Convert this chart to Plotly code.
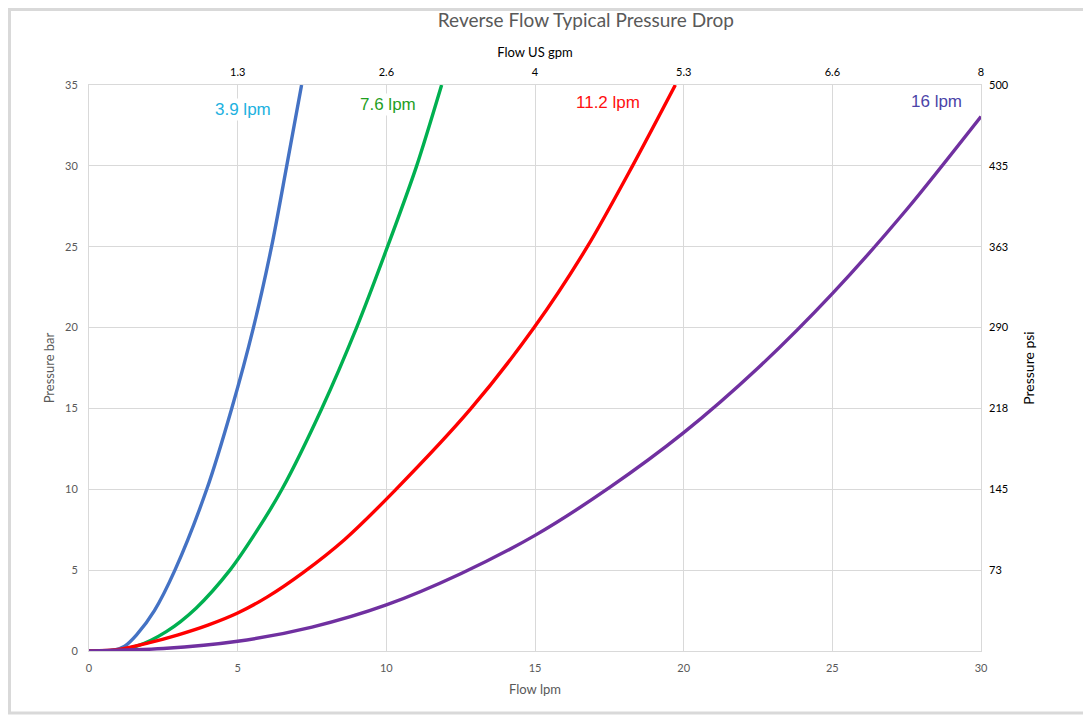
import plotly.graph_objects as go

# Flow (lpm) vs pressure drop (bar)
blue_x = [0, 0.8, 1.2, 1.6, 2.2, 2.89, 3.96, 4.80, 5.53, 6.14, 6.65, 7.15]
blue_y = [0, 0.03, 0.3, 1.0, 2.5, 5, 10, 15, 20, 25, 30, 35]

green_x = [0, 0.8, 1.6, 2.6, 3.6, 4.74, 5.6, 6.49, 7.83, 9.0, 10.04, 11.02, 11.86]
green_y = [0, 0.03, 0.3, 1.2, 2.65, 5, 7.3, 10, 15, 20, 25, 30, 35]

red_x = [0, 1, 2, 3, 4, 5, 6, 7.2, 8.6, 10.3, 12.85, 14.97, 16.76, 18.28, 19.72]
red_y = [0, 0.1, 0.5, 1.0, 1.6, 2.35, 3.35, 4.85, 6.9, 9.95, 15, 20, 25, 30, 35]

purple_x = [0, 2.5, 5, 7.5, 10, 12.5, 15, 17.5, 20, 22.5, 25, 27.5, 30]
purple_y = [0, 0.15, 0.6, 1.48, 2.85, 4.78, 7.15, 10.1, 13.5, 17.5, 22.1, 27.3, 33.05]

series_names = ['3.9 lpm', '7.6 lpm', '11.2 lpm', '16 lpm']
line_colors = ['#4472C4', '#00B050', '#FF0000', '#7030A0']
label_colors = ['#21B1E0', '#1FA01F', '#FF1010', '#4B44A8']
label_pos = [(5.18, 33.5), (10.06, 33.77), (17.46, 33.9), (28.52, 33.95)]

bar_ticks = [0, 5, 10, 15, 20, 25, 30, 35]
psi_ticks = [5, 10, 15, 20, 25, 30, 35]
psi_labels = ['73', '145', '218', '290', '363', '435', '500']
lpm_ticks = [0, 5, 10, 15, 20, 25, 30]
gpm_ticks = [5, 10, 15, 20, 25, 30]
gpm_labels = ['1.3', '2.6', '4', '5.3', '6.6', '8']

FONT = 'Lato'
GRID = '#D9D9D9'

fig = go.Figure()

for xs, ys, name, col in zip([blue_x, green_x, red_x, purple_x],
                             [blue_y, green_y, red_y, purple_y],
                             series_names, line_colors):
    fig.add_trace(go.Scatter(
        x=xs, y=ys, mode='lines', name=name,
        line=dict(color=col, width=3.4, shape='spline', smoothing=0.8),
    ))

# invisible trace so the secondary axes get drawn
fig.add_trace(go.Scatter(x=[0, 30], y=[0, 35], xaxis='x2', yaxis='y2',
                         mode='markers', marker=dict(opacity=0),
                         showlegend=False, hoverinfo='skip'))

for name, col, (lx, ly) in zip(series_names, label_colors, label_pos):
    fig.add_annotation(x=lx, y=ly, text=name, showarrow=False,
                       font=dict(family='Liberation Sans', size=17, color=col),
                       bgcolor='white')

# the page adds an 8px body margin, so the figure is a bit smaller than the window
fig.update_layout(
    width=1083, height=708,
    margin=dict(l=81, r=110, t=77, b=65),
    paper_bgcolor='white', plot_bgcolor='white',
    showlegend=False,
    title=dict(text='Reverse Flow Typical Pressure Drop',
               x=0.557, xref='paper', xanchor='center',
               y=0.982, yanchor='middle',
               font=dict(family=FONT, size=19, color='#595959')),
    xaxis=dict(range=[0, 30], tickvals=lpm_ticks,
               showgrid=True, gridcolor=GRID, gridwidth=1,
               showline=True, linecolor=GRID, linewidth=1, mirror=True,
               zeroline=False, ticks='', ticklabelstandoff=7,
               tickfont=dict(family=FONT, size=11, color='#595959'),
               title=dict(text='Flow lpm', standoff=11,
                          font=dict(family=FONT, size=13, color='#595959'))),
    yaxis=dict(range=[0, 35], tickvals=bar_ticks,
               showgrid=True, gridcolor=GRID, gridwidth=1,
               showline=True, linecolor=GRID, linewidth=1, mirror=True,
               zeroline=False, ticks='', ticklabelstandoff=8,
               tickfont=dict(family=FONT, size=11, color='#595959'),
               title=dict(text='Pressure bar', standoff=7,
                          font=dict(family=FONT, size=13, color='#595959'))),
    xaxis2=dict(overlaying='x', side='top', range=[0, 30],
                tickvals=gpm_ticks, ticktext=gpm_labels,
                showgrid=False, zeroline=False, ticks='', ticklabelstandoff=6,
                tickfont=dict(family=FONT, size=11, color='#000000'),
                title=dict(text='Flow US gpm', standoff=4,
                           font=dict(family=FONT, size=13, color='#000000'))),
    yaxis2=dict(overlaying='y', side='right', range=[0, 35],
                tickvals=psi_ticks, ticktext=psi_labels,
                showgrid=False, zeroline=False, ticks='', ticklabelstandoff=7,
                tickfont=dict(family=FONT, size=11, color='#000000'),
                title=dict(text='Pressure psi', standoff=16,
                           font=dict(family=FONT, size=14, color='#000000'))),
)

# outer chart border
fig.add_shape(type='rect', xref='paper', yref='paper',
              x0=-0.0891, x1=1.1166, y0=-0.1095, y1=1.1334,
              line=dict(color='#D9D9D9', width=3))

fig.write_html("out.html")
